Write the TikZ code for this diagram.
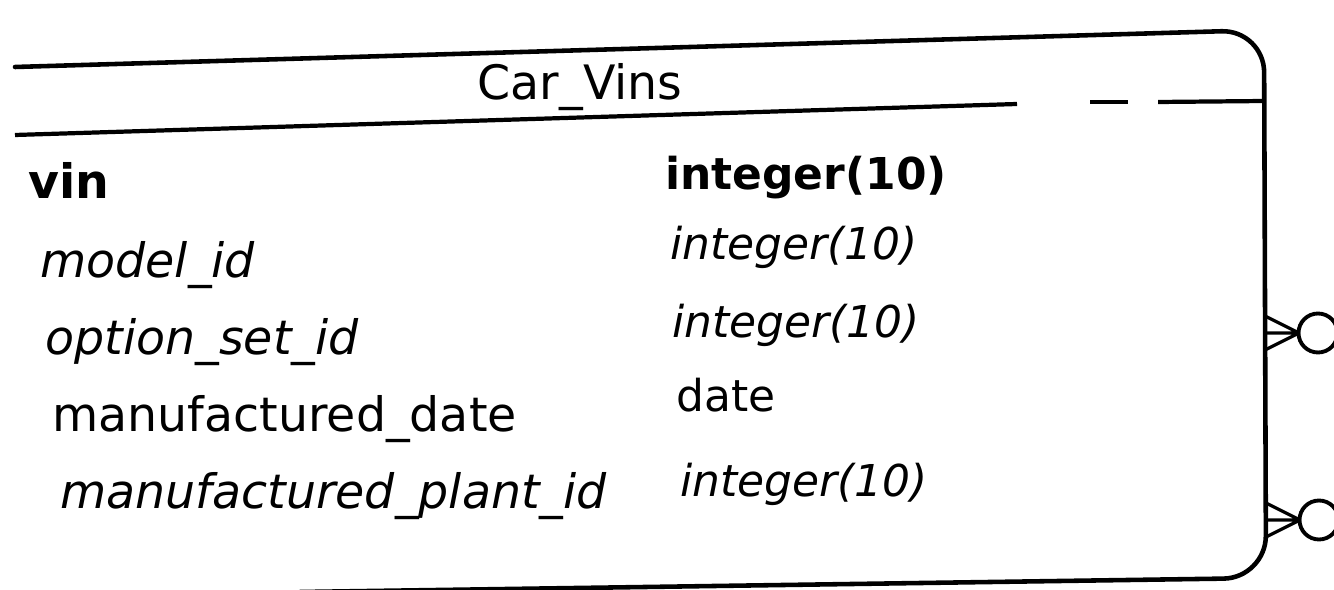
\documentclass[tikz,border=0pt]{standalone}
\usepackage{fontspec}
\setmainfont{DejaVu Sans}
\begin{document}
\begin{tikzpicture}[x=0.02cm,y=-0.02cm,
  edge/.style={line width=2.6pt, line cap=round},
  rule/.style={line width=2.4pt},
  lbl/.style={anchor=base west, inner sep=0pt, font=\fontsize{25}{30}\selectfont},
  namelbl/.style={anchor=base west, inner sep=0pt, font=\fontsize{27}{32}\selectfont},
  boldlbl/.style={lbl, font=\fontsize{25}{30}\selectfont\bfseries},
  itlbl/.style={lbl, font=\fontsize{25}{30}\selectfont\itshape},
  itname/.style={namelbl, font=\fontsize{27}{32}\selectfont\itshape},
  foot/.style={line width=1.8pt},
  ring/.style={line width=2.2pt, fill=white}]
\useasboundingbox (0,0) rectangle (1334,590);
% table outline
\draw[edge, rounded corners=0.85cm] (15,67) -- (1264,30) -- (1266,578) -- (300,592);
% rule under title (solid, then dashes)
\draw[rule] (15,135) -- (1017,104);
\draw[rule] (1090,102) -- (1128,102);
\draw[rule] (1158,102) -- (1265,101);
% title
\node[namelbl, anchor=base] (title) at (580,100) {Car\_Vins};
% attribute names
\node[boldlbl, font=\fontsize{27}{32}\selectfont\bfseries] (vin) at (28,199) {vin};
\node[itname] (model) at (40,278) {model\_id};
\node[itname] (option) at (45,355) {option\_set\_id};
\node[namelbl] (mdate) at (52,432) {manufactured\_date};
\node[itname] (plant) at (60,508) {manufactured\_plant\_id};
% types
\node[boldlbl] (vint) at (665,190) {integer(10)};
\node[itlbl] (modelt) at (670,260) {integer(10)};
\node[itlbl] (optiont) at (672,338) {integer(10)};
\node[lbl] (mdatet) at (676,412) {date};
\node[itlbl] (plantt) at (680,497) {integer(10)};
% crow's feet with optional circles
\coordinate (a1) at (1265,316);
\coordinate (a2) at (1265,333);
\coordinate (a3) at (1265,350);
\coordinate (ap) at (1299,333);
\draw[foot] (a1) -- (ap) (a2) -- (ap) (a3) -- (ap);
\node[draw, ring, circle, minimum size=0.78cm, inner sep=0pt] (o1) at (1318,333) {};
\coordinate (b1) at (1266,503);
\coordinate (b2) at (1266,520);
\coordinate (b3) at (1266,537);
\coordinate (bp) at (1300,520);
\draw[foot] (b1) -- (bp) (b2) -- (bp) (b3) -- (bp);
\node[draw, ring, circle, minimum size=0.78cm, inner sep=0pt] (o2) at (1319,520) {};
\end{tikzpicture}
\end{document}
